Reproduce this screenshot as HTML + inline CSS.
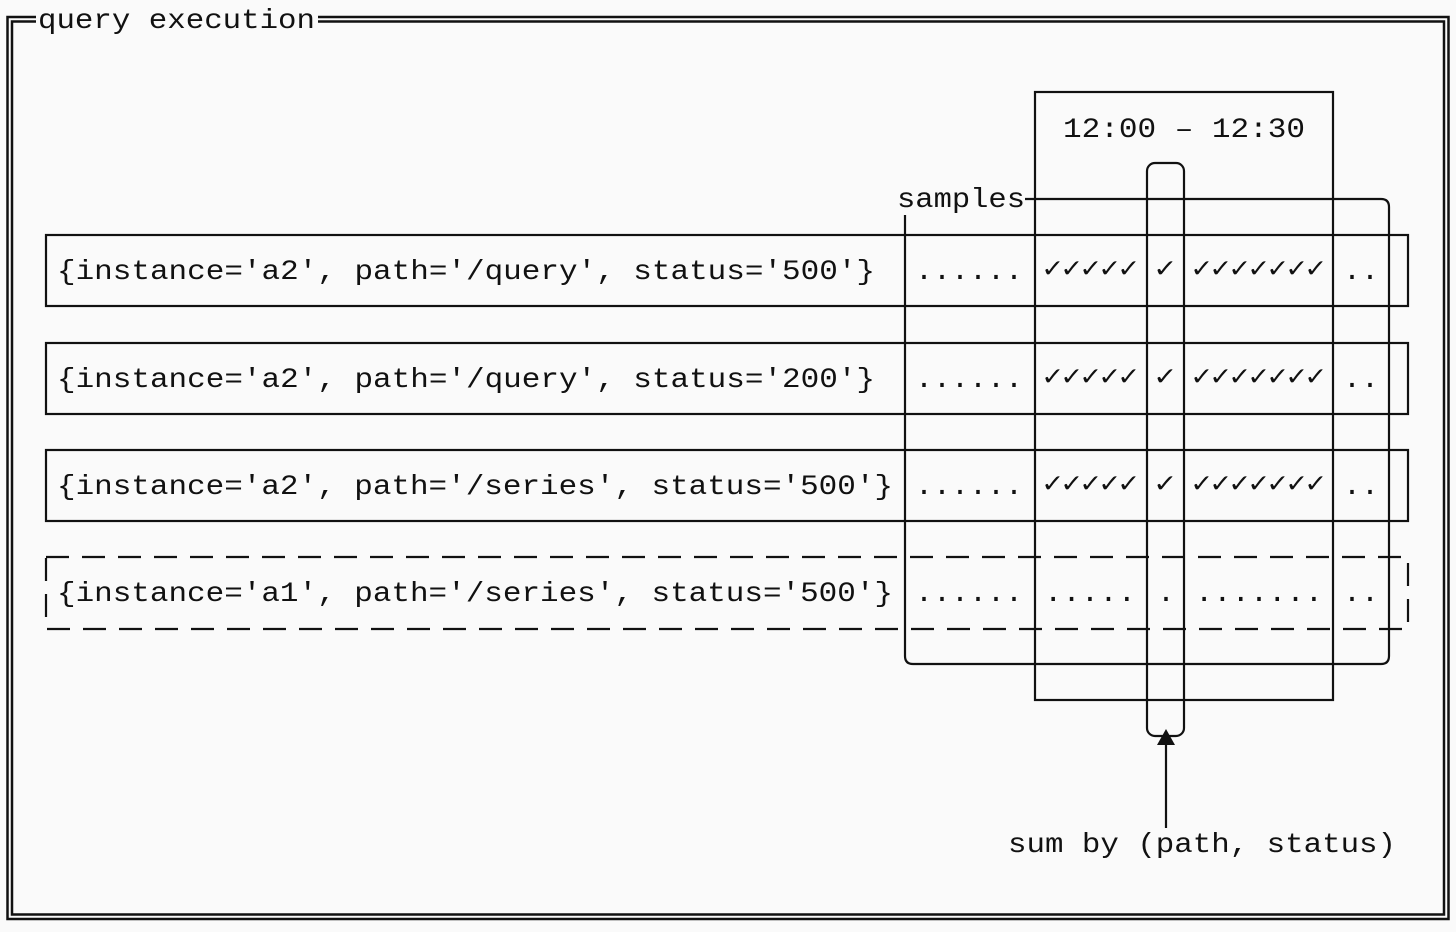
<!DOCTYPE html>
<html><head><meta charset="utf-8"><style>
html,body{margin:0;padding:0;background:#fafafa;}
svg{display:block;}
text{font-family:"Liberation Mono","DejaVu Sans Mono",monospace;fill:#111;font-size:28px;}
</style></head><body>
<svg width="1456" height="932" viewBox="0 0 1456 932" xmlns="http://www.w3.org/2000/svg">
<rect x="0" y="0" width="1456" height="932" fill="#fafafa"/>
<g fill="none" stroke="#111" stroke-width="2.5">
<rect x="7.5" y="17" width="1441" height="902"/>
<rect x="12" y="21.5" width="1432" height="893"/>
</g>
<rect x="36" y="4" width="282" height="30" fill="#fafafa"/>
<text x="38" y="28" textLength="277" lengthAdjust="spacingAndGlyphs">query execution</text>

<g fill="none" stroke="#111" stroke-width="2.2">
<rect x="46" y="235" width="1362" height="71"/>
<rect x="46" y="343" width="1362" height="71"/>
<rect x="46" y="450" width="1362" height="71"/>
<rect x="46" y="557" width="1362" height="72" stroke-dasharray="23 13"/>
<!-- time window box -->
<rect x="1035" y="92" width="298" height="608"/>
<!-- samples box -->
<path d="M905 215 V656 Q905 664 913 664 H1381 Q1389 664 1389 656 V207 Q1389 199 1381 199 H1025"/>
<!-- narrow box -->
<rect x="1147" y="163" width="37" height="573" rx="8"/>
<line x1="1166" y1="745" x2="1166" y2="828"/>
</g>
<polygon points="1166,729 1157,745 1175,745" fill="#111"/>

<text x="1063" y="137" textLength="242" lengthAdjust="spacingAndGlyphs">12:00 – 12:30</text>
<text x="897" y="207" textLength="128" lengthAdjust="spacingAndGlyphs">samples</text>
<text x="1008" y="852" textLength="388" lengthAdjust="spacingAndGlyphs">sum by (path, status)</text>

<text x="57" y="279" textLength="818" lengthAdjust="spacingAndGlyphs">{instance='a2', path='/query', status='500'}</text>
<text x="57" y="387" textLength="818" lengthAdjust="spacingAndGlyphs">{instance='a2', path='/query', status='200'}</text>
<text x="57" y="494" textLength="836" lengthAdjust="spacingAndGlyphs">{instance='a2', path='/series', status='500'}</text>
<text x="57" y="601" textLength="836" lengthAdjust="spacingAndGlyphs">{instance='a1', path='/series', status='500'}</text>

<g>
<text x="915" y="279" textLength="108" lengthAdjust="spacingAndGlyphs">......</text>
<text x="1043" y="277" textLength="95" lengthAdjust="spacingAndGlyphs" font-size="22">✓✓✓✓✓</text>
<text x="1155" y="277" textLength="20" lengthAdjust="spacingAndGlyphs" font-size="22">✓</text>
<text x="1192" y="277" textLength="133" lengthAdjust="spacingAndGlyphs" font-size="22">✓✓✓✓✓✓✓</text>
<text x="1343" y="279" textLength="36" lengthAdjust="spacingAndGlyphs">..</text>

<text x="915" y="387" textLength="108" lengthAdjust="spacingAndGlyphs">......</text>
<text x="1043" y="385" textLength="95" lengthAdjust="spacingAndGlyphs" font-size="22">✓✓✓✓✓</text>
<text x="1155" y="385" textLength="20" lengthAdjust="spacingAndGlyphs" font-size="22">✓</text>
<text x="1192" y="385" textLength="133" lengthAdjust="spacingAndGlyphs" font-size="22">✓✓✓✓✓✓✓</text>
<text x="1343" y="387" textLength="36" lengthAdjust="spacingAndGlyphs">..</text>

<text x="915" y="494" textLength="108" lengthAdjust="spacingAndGlyphs">......</text>
<text x="1043" y="492" textLength="95" lengthAdjust="spacingAndGlyphs" font-size="22">✓✓✓✓✓</text>
<text x="1155" y="492" textLength="20" lengthAdjust="spacingAndGlyphs" font-size="22">✓</text>
<text x="1192" y="492" textLength="133" lengthAdjust="spacingAndGlyphs" font-size="22">✓✓✓✓✓✓✓</text>
<text x="1343" y="494" textLength="36" lengthAdjust="spacingAndGlyphs">..</text>

<text x="915" y="601" textLength="108" lengthAdjust="spacingAndGlyphs">......</text>
<text x="1044" y="601" textLength="92" lengthAdjust="spacingAndGlyphs">.....</text>
<text x="1157" y="601" textLength="18" lengthAdjust="spacingAndGlyphs">.</text>
<text x="1195" y="601" textLength="128" lengthAdjust="spacingAndGlyphs">.......</text>
<text x="1343" y="601" textLength="36" lengthAdjust="spacingAndGlyphs">..</text>
</g>
</svg>
</body></html>
